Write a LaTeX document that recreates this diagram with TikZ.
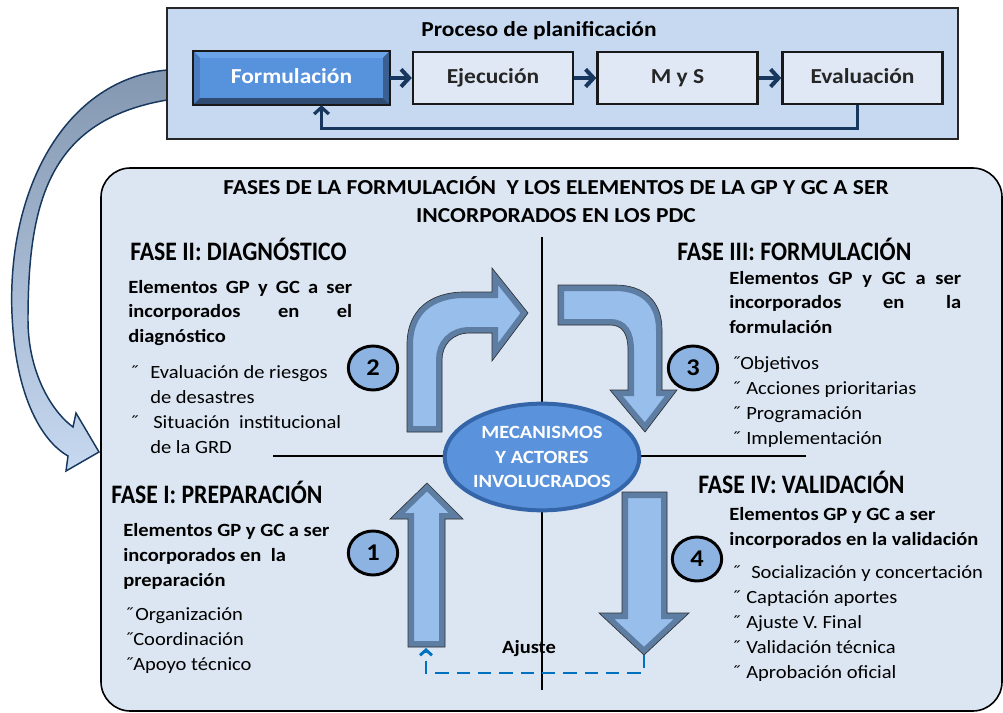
\documentclass[tikz,border=0pt]{standalone}
\usepackage{fontspec}
\setmainfont{Carlito}[FakeStretch=1.1]
\newfontfamily\fasefont{Carlito}[FakeStretch=0.89]
\usetikzlibrary{arrows.meta,shapes.geometric,positioning,calc}

\definecolor{panelbg}{HTML}{DCE6F2}
\definecolor{topbg}{HTML}{C6D9F1}
\definecolor{stepbg}{HTML}{DFE8F4}
\definecolor{navy}{HTML}{17375E}
\definecolor{formface}{HTML}{5792DD}
\definecolor{bevlight}{HTML}{6AA3E8}
\definecolor{bevleft}{HTML}{4A7BBE}
\definecolor{bevright}{HTML}{3A5F90}
\definecolor{bevbot}{HTML}{2F4B72}
\definecolor{arrowlight}{HTML}{98BEEC}
\definecolor{arrowdark}{HTML}{5E7DA3}
\definecolor{numfill}{HTML}{8DB3E2}
\definecolor{mechfill}{HTML}{5A93DC}
\definecolor{mechrim}{HTML}{3465A8}
\definecolor{ajusteblue}{HTML}{0070C0}
\definecolor{bigtop}{HTML}{8497B0}
\definecolor{bigbot}{HTML}{C6D9F1}

% bullet in a box of given width
\newcommand{\bul}[1]{\makebox[#1][l]{˝}}
% arrow with a bevel rim
\newcommand{\bevelarrow}[1]{%
  \fill[arrowface] #1;
  \begin{scope}\clip #1; \draw[arrowrim] #1; \end{scope}
  \draw[arrowedge] #1;}

\begin{document}
\begin{tikzpicture}[x=0.75pt,y=-0.75pt,
  panel/.style={draw=black,line width=1.2pt,fill=panelbg,rounded corners=22pt},
  topframe/.style={draw=black!85,line width=1.2pt,fill=topbg},
  stepbox/.style={draw=black!90,line width=1.8pt,fill=stepbg,minimum width=120pt,
    minimum height=39pt,inner sep=0pt,text height=11.5pt,text depth=3pt,
    font=\bfseries\fontsize{16}{19}\selectfont,text=black!85},
  stepform/.style={stepbox,fill=formface,minimum width=146pt,text=white},
  flow/.style={-{Straight Barb[length=6pt,width=13pt]},line width=3pt,draw=navy},
  fb/.style={-{Straight Barb[length=5pt,width=11pt]},line width=2.4pt,draw=navy},
  bigarrow/.style={top color=bigtop,bottom color=bigbot,draw=navy,line width=1.1pt},
  axis/.style={draw=black,line width=2.2pt},
  arrowface/.style={fill=arrowlight},
  arrowrim/.style={draw=arrowdark,line width=9pt},
  arrowedge/.style={draw=black!80,line width=0.5pt},
  numcirc/.style={ellipse,draw=black,line width=2.2pt,fill=numfill,minimum width=37pt,
    minimum height=33pt,inner sep=0pt,font=\bfseries\fontsize{18}{20}\selectfont},
  mech/.style={ellipse,draw=mechrim,line width=3pt,fill=mechfill,minimum width=138pt,
    minimum height=80pt,inner sep=0pt,align=center,text=white,
    font=\bfseries\fontsize{14}{18.4}\selectfont},
  ajuste/.style={draw=ajusteblue,line width=2.2pt,dash pattern=on 10pt off 6pt,
    -{Straight Barb[length=4pt,width=9pt]}},
  fase/.style={anchor=base west,inner sep=0pt,font=\fasefont\bfseries\fontsize{20}{24}\selectfont},
  lead/.style={anchor=base west,inner sep=0pt,align=left,font=\bfseries\fontsize{14}{18.4}\selectfont},
  body/.style={anchor=base west,inner sep=0pt,align=left,font=\fontsize{14}{18.6}\selectfont}]

\useasboundingbox (0,0) rectangle (1003,713);

% big panel
\draw[panel] (101,168) rectangle (1002,711);

% curved arrow from the process box
\shade[bigarrow] (167,70) .. controls (60,80) and (2,200) .. (13,330)
  .. controls (18,395) and (40,440) .. (68,456) -- (66,471) -- (99,452) -- (76,413)
  -- (73,427) .. controls (50,410) and (28,370) .. (28,320)
  .. controls (28,200) and (50,120) .. (167,100) -- cycle;

% planning process
\draw[topframe] (167,8) rectangle (958,139);
\node[font=\bfseries\fontsize{16}{19}\selectfont] (ptitle) at (539,31) {Proceso de planificación};
\node[stepform] (form) at (291.5,78) {Formulación};
\node[stepbox] (eje) at (493,78) {Ejecución};
\node[stepbox] (mys) at (677.5,78) {M y S};
\node[stepbox] (eva) at (862.5,78) {Evaluación};
\fill[bevlight] (form.north west) -- (form.north east) -- ($(form.north east)+(-7,7)$) -- ($(form.north west)+(7,7)$) -- cycle;
\fill[bevleft] (form.north west) -- (form.south west) -- ($(form.south west)+(7,-7)$) -- ($(form.north west)+(7,7)$) -- cycle;
\fill[bevright] (form.north east) -- (form.south east) -- ($(form.south east)+(-7,-7)$) -- ($(form.north east)+(-7,7)$) -- cycle;
\fill[bevbot] (form.south west) -- (form.south east) -- ($(form.south east)+(-7,-7)$) -- ($(form.south west)+(7,-7)$) -- cycle;
\draw[line width=1.8pt,black!90] (form.north west) rectangle (form.south east);
\draw[flow] (form) -- (eje);
\draw[flow] (eje) -- (mys);
\draw[flow] (mys) -- (eva);
\draw[fb] ($(eva.south)+(-5,0)$) -- ++(0,23) -| ($(form.south)+(30,0)$);

% panel title
\node[anchor=base,align=center,inner sep=0pt,font=\bfseries\fontsize{16}{21}\selectfont] (ftitle) at (556,223)
  {FASES DE LA FORMULACIÓN\ \ Y LOS ELEMENTOS DE LA GP Y GC A SER\\INCORPORADOS EN LOS PDC};

% cross
\draw[axis] (542,237) -- (542,690);
\draw[axis] (273,456) -- (806,456);

% phase arrows
\bevelarrow{(408,647) -- (408,519) -- (390,519) -- (427,483) -- (463,519) -- (445,519) -- (445,647) -- cycle}
\bevelarrow{(407,432) -- (407,345) .. controls (407,310) and (430,292) .. (465,292) -- (492,292)
  -- (492,268) -- (528,313) -- (492,361) -- (492,333) -- (470,333)
  .. controls (452,333) and (442,345) .. (442,360) -- (442,432) -- cycle}
\bevelarrow{(558,285) -- (615,285) .. controls (643,285) and (662,300) .. (662,330) -- (662,390)
  -- (677,390) -- (645,432) -- (610,390) -- (628,390) -- (628,350)
  .. controls (628,333) and (622,325) .. (610,325) -- (558,325) -- cycle}
\bevelarrow{(622,492) -- (667,492) -- (667,613) -- (689,613) -- (644,655) -- (599,613) -- (622,613) -- cycle}

\node[numcirc] (n1) at (373,553) {1};
\node[numcirc] (n2) at (373,368) {2};
\node[numcirc] (n3) at (693,368) {3};
\node[numcirc] (n4) at (697,559) {4};

\node[mech] (mec) at (542,457) {MECANISMOS\\Y ACTORES\\INVOLUCRADOS};

% adjustment loop
\coordinate (tip4) at (644,655);
\coordinate (foot1) at (426,648);
\draw[ajuste] (tip4) -- ++(0,18) -| (foot1);
\node[font=\bfseries\fontsize{14}{17}\selectfont,inner sep=0pt] (ajtxt) at (529,649) {Ajuste};

% fase II
\node[fase] (h2) at (130,260) {FASE II: DIAGNÓSTICO};
\node[lead,text width=168pt,align=justify] (l2) at (128,293)
  {Elementos GP y GC a ser\linebreak incorporados en el\linebreak diagnóstico};
\node[body] (b2) at (129,453) {\bul{15.75pt}Evaluación de riesgos\\\hspace*{15.75pt}de desastres\\
  \bul{18pt}Situación\ \ institucional\\\hspace*{15.75pt}de la GRD};

% fase III
\node[fase] (h3) at (677,260) {FASE III: FORMULACIÓN};
\node[lead,text width=174pt,align=justify] (l3) at (729,284)
  {Elementos GP y GC a ser\linebreak incorporados en la\linebreak formulación};
\node[body] (b3) at (731,444) {\bul{6.75pt}Objetivos\\\bul{11.25pt}Acciones prioritarias\\
  \bul{11.25pt}Programación\\\bul{11.25pt}Implementación};

% fase I
\node[fase] (h1) at (111,503) {FASE I: PREPARACIÓN};
\node[lead] (l1) at (123,586) {Elementos GP y GC a ser\\incorporados en\ \ la\\preparación};
\node[body] (b1) at (124,670) {\bul{8.25pt}Organización\\\bul{6.75pt}Coordinación\\\bul{6.75pt}Apoyo técnico};

% fase IV
\node[fase] (h4) at (698,493) {FASE IV: VALIDACIÓN};
\node[lead] (l4) at (729,545.5) {Elementos GP y GC a ser\\incorporados en la validación};
\node[body] (b4) at (731,678) {\bul{15pt}Socialización y concertación\\\bul{11.25pt}Captación aportes\\
  \bul{11.25pt}Ajuste V. Final\\\bul{11.25pt}Validación técnica\\\bul{11.25pt}Aprobación oficial};
\end{tikzpicture}
\end{document}
